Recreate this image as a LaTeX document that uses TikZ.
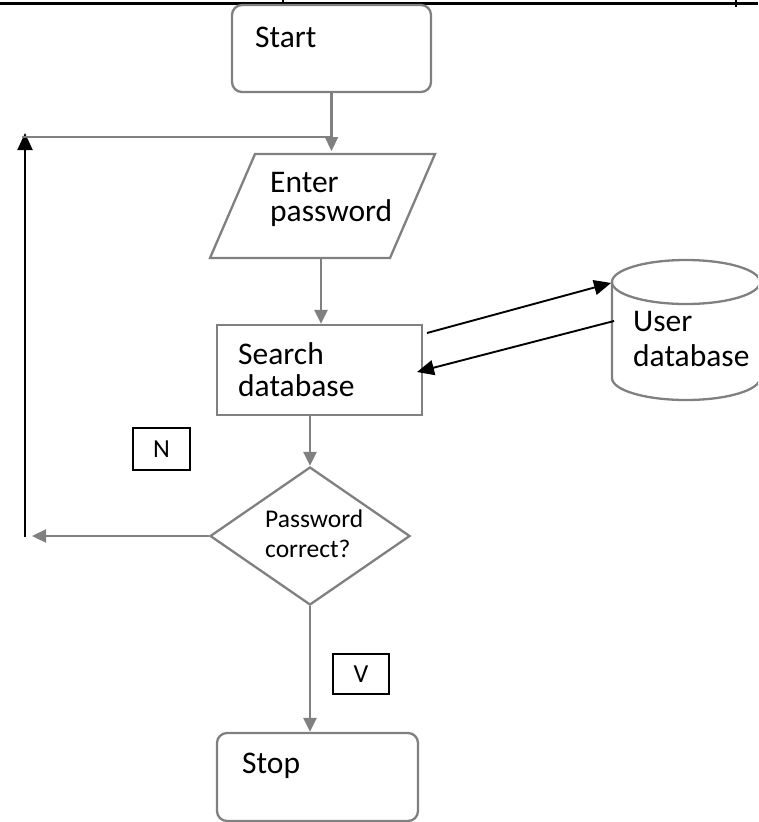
\documentclass[tikz,border=0pt]{standalone}
\usepackage{fontspec}
\setmainfont{Carlito}
\usetikzlibrary{shapes.geometric,arrows.meta}
\definecolor{linegray}{RGB}{128,128,128}
\begin{document}
\begin{tikzpicture}[x=1pt,y=-1pt,
  flow/.style={draw=linegray,line width=2.3pt,fill=white,inner sep=0pt},
  gline/.style={draw=linegray,line width=2.3pt},
  gconn/.style={draw=linegray,line width=2.3pt,-{Triangle[length=14pt,width=13pt]}},
  bconn/.style={draw=black,line width=1.9pt,-{Triangle[length=17pt,width=15pt]}},
  lbl/.style={font=\fontsize{31.5}{32}\selectfont,inner sep=0pt,anchor=base west,align=left},
  small/.style={font=\fontsize{25.5}{30}\selectfont,inner sep=0pt,anchor=base west,align=left},
  tag/.style={draw=black,line width=1.5pt,inner sep=0pt,font=\fontsize{26}{26}\selectfont}]
\useasboundingbox (0,0) rectangle (758,822);
\clip (0,0) rectangle (758,822);

% header rule
\draw[line width=3pt] (0,3.5) -- (758,3.5);
\draw[line width=1.2pt] (283,0) -- (283,7) (736,0) -- (736,7);

% Start
\node[flow,rounded corners=10pt,minimum width=199pt,minimum height=87pt] (start) at (331.5,48.5) {};
\node[lbl] (starttext) at (255,47) {Start};

% Enter password (parallelogram)
\draw[flow] (255,154) -- (435,154) -- (390,258) -- (210,258) -- cycle;
\node[lbl] (entertext) at (270,221) {Enter\\[-3pt]password};
\coordinate (enterN) at (331.5,151);
\coordinate (enterS) at (321,258);

% Search database
\node[flow,minimum width=205pt,minimum height=90pt] (search) at (319.5,370) {};
\node[lbl] (searchtext) at (238,396) {Search\\database};

% Decision
\node[flow,diamond,minimum width=200pt,minimum height=138pt] (dec) at (310,536) {};
\node[small] (dectext) at (265,557) {Password\\correct?};

% Stop
\node[flow,rounded corners=10pt,minimum width=201pt,minimum height=88pt] (stop) at (317.5,777) {};
\node[lbl] (stoptext) at (242,773) {Stop};

% User database (cylinder)
\fill[white] (612,282) -- (612,378) arc[start angle=180,end angle=0,x radius=74,y radius=22] -- (760,282) -- cycle;
\draw[gline] (612,282) -- (612,378) arc[start angle=180,end angle=0,x radius=74,y radius=22] -- (760,282);
\draw[gline,fill=white] (686,282) ellipse[x radius=74,y radius=22];
\node[lbl] (dbtext) at (633,366) {User\\[3pt]database};
\coordinate (dbIn) at (611,283);
\coordinate (dbOut) at (614,321);
\coordinate (srchOut) at (427,333);
\coordinate (srchIn) at (417,372);

% tags
\node[tag,minimum width=57pt,minimum height=42pt] (ntag) at (161.5,449) {N};
\node[tag,minimum width=56pt,minimum height=40pt] (ytag) at (361,674) {V};

% connectors
\draw[gconn] (start.south) -- (enterN);
\draw[gconn] (enterS) -- (enterS |- search.north);
\draw[gconn] (dec.north |- search.south) -- (dec.north);
\draw[gconn] (dec.south) -- (dec.south |- stop.north);
\draw[bconn] (srchOut) -- (dbIn);
\draw[bconn] (dbOut) -- (srchIn);

% loop back
\coordinate (noEnd) at (32,536);
\coordinate (upFrom) at (25,537);
\coordinate (upTo) at (25,133);
\coordinate (loopL) at (22,137);
\draw[gconn] (dec.west) -- (noEnd);
\draw[bconn] (upFrom) -- (upTo);
\draw[gline] (loopL) -- (loopL -| start.south);
\end{tikzpicture}
\end{document}
